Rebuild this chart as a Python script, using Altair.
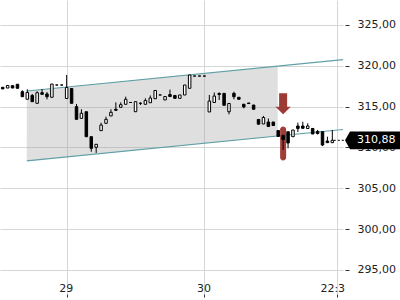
import altair as alt
import pandas as pd

# ---- candle data (index = bar number) ----
opens = [317.37, 317.28, 317.57, 317.74, 316.83, 315.91, 316.37, 315.41, 316.71, 316.55,
         316.15, 317.65, 317.65, 316.00, 317.22, 315.00, 313.57, 314.38, 311.32, 310.02,
         312.06, 312.96, 313.86, 314.68, 314.92, 315.29, 315.51, 314.38, 315.41, 315.29,
         315.48, 315.97, 316.43, 315.82, 316.49, 316.37, 316.02, 316.43, 317.25, 318.75,
         318.75, 318.75, 314.35, 315.51, 316.61, 316.63, 314.38, 316.63, 316.15, 315.30,
         315.45, 315.20, 313.43, 312.88, 313.12, 313.12, 312.08, 311.47, 311.93, 311.32,
         312.63, 312.63, 312.33, 312.33, 311.96, 311.93, 310.79, 310.59]
highs = [317.37, 317.59, 317.57, 317.74, 317.00, 317.13, 316.55, 316.88, 317.16, 316.79,
         317.77, 317.65, 317.65, 318.88, 317.22, 315.33, 314.68, 314.38, 311.32, 310.39,
         313.04, 313.77, 314.68, 315.53, 315.53, 316.22, 315.51, 315.61, 315.53, 316.02,
         316.37, 316.98, 316.43, 316.24, 317.08, 316.37, 316.43, 317.65, 318.88, 318.75,
         318.75, 318.75, 316.43, 316.73, 316.76, 316.63, 315.39, 316.83, 316.15, 315.30,
         315.45, 315.20, 313.43, 313.86, 313.55, 313.12, 312.08, 311.60, 311.93, 312.14,
         313.04, 313.15, 312.96, 312.33, 312.14, 311.93, 311.32, 312.14]
lows = [317.17, 317.28, 317.28, 317.25, 316.22, 315.91, 315.61, 315.41, 316.51, 315.90,
        316.15, 317.65, 317.65, 316.00, 315.41, 313.45, 313.57, 311.32, 309.48, 309.33,
        312.06, 312.96, 313.86, 314.55, 314.92, 315.29, 315.51, 314.38, 315.20, 315.29,
        315.48, 315.97, 316.43, 315.82, 316.24, 316.02, 316.02, 316.43, 317.25, 318.75,
        318.75, 318.75, 314.35, 315.51, 315.82, 315.17, 314.06, 315.90, 315.90, 314.80,
        315.38, 314.68, 312.85, 312.88, 312.57, 312.69, 311.35, 309.70, 309.90, 311.32,
        311.90, 312.35, 312.33, 311.65, 311.59, 310.18, 310.59, 310.59]
closes = [317.17, 317.59, 317.28, 317.25, 316.22, 316.73, 315.61, 316.71, 316.51, 316.22,
          317.77, 317.65, 317.65, 317.35, 315.41, 313.45, 314.19, 311.32, 309.90, 310.39,
          312.75, 313.45, 314.31, 314.55, 315.24, 315.90, 315.51, 315.61, 315.41, 315.75,
          316.06, 316.98, 316.43, 316.24, 316.24, 316.02, 316.43, 317.65, 318.88, 318.75,
          318.75, 318.75, 315.69, 316.30, 316.49, 315.17, 315.39, 316.22, 315.90, 314.96,
          315.38, 314.68, 312.85, 313.67, 312.57, 312.69, 311.35, 310.98, 310.55, 312.14,
          312.33, 312.35, 312.63, 311.65, 311.71, 310.30, 310.59, 310.88]
bars = list(range(len(opens)))

# ---- axes ----
x_tick_values = [13, 41, 68]
x_tick_labels = ["29", "30", "22:3"]
y_tick_values = [295, 300, 305, 310, 315, 320, 325]

# ---- trend channel ----
fill_t = [4.9, 55.9]
fill_upper = [316.92, 319.97]
fill_lower = [308.35, 311.40]
line_t = [4.9, 69.17]
line_upper = [316.92, 320.77]
line_lower = [308.35, 312.20]

# ---- signal ----
signal_bar = [57]
signal_arrow_price = [315.35]
signal_band_top = [312.57]
signal_band_bottom = [308.41]

last_price = 310.88

FONT = "DejaVu Sans"
xscale = alt.Scale(domain=[-0.55, 69.17], nice=False, zero=False, padding=0)
yscale = alt.Scale(domain=[292.06, 328.06], nice=False, zero=False, padding=0)

label_expr = " : ".join(
    f"datum.value == {v} ? '{l}'" for v, l in zip(x_tick_values[:-1], x_tick_labels[:-1])
) + f" : '{x_tick_labels[-1]}'"

xaxis = alt.Axis(values=x_tick_values, labelExpr=label_expr, grid=True, gridColor="#d6d6d6",
                 gridWidth=1, domain=False, tickSize=3, tickColor="#333", labelPadding=-15,
                 labelFont=FONT, labelFontSize=11, labelColor="#222", title=None,
                 labelOffset={"condition": {"test": "datum.value == 68", "value": -5}, "value": -1})
yaxis = alt.Axis(values=y_tick_values, orient="right",
                 labelExpr="replace(format(datum.value, '.2f'), '.', ',')",
                 grid=True, gridColor="#d6d6d6", gridWidth=1, domain=False, tickSize=4,
                 tickColor="#333", offset=2, labelPadding=8, labelFont=FONT, labelFontSize=11,
                 labelColor="#222", title=None)


def X(f):
    return alt.X(f"{f}:Q", scale=xscale, axis=xaxis)


def Y(f):
    return alt.Y(f"{f}:Q", scale=yscale, axis=yaxis)


df = pd.DataFrame({"t": bars, "open": opens, "high": highs, "low": lows, "close": closes})
fill_df = pd.DataFrame({"t": fill_t, "lo": fill_lower, "hi": fill_upper})
line_df = pd.DataFrame({
    "t": line_t + line_t,
    "p": line_upper + line_lower,
    "s": ["u", "u", "l", "l"],
})
sig_df = pd.DataFrame({"t": signal_bar, "a": signal_arrow_price,
                       "top": signal_band_top, "bot": signal_band_bottom})
last_df = pd.DataFrame({"t": [67.3], "t2": [69.6], "p": [last_price],
                        "lbl": [f"{last_price:.2f}".replace(".", ",")]})

channel = alt.Chart(fill_df).mark_area(color="#9e9e9e", opacity=0.33).encode(
    x=X("t"), y=Y("lo"), y2="hi")
lines = alt.Chart(line_df).mark_line(color="#5fa0a6", strokeWidth=1.2).encode(
    x=X("t"), y=Y("p"), detail="s:N")
band = alt.Chart(sig_df).mark_bar(size=6, cornerRadius=3, color="#a23e38").encode(
    x=X("t"), y=Y("top"), y2="bot")
wicks = alt.Chart(df).mark_rule(color="black", strokeWidth=1).encode(
    x=X("t"), y=Y("low"), y2="high")
bodies = alt.Chart(df).mark_bar(size=2.5, stroke="black", strokeWidth=1).encode(
    x=X("t"), y=Y("open"), y2="close",
    fill=alt.condition("datum.close > datum.open", alt.value("white"), alt.value("black")))
arrow_path = ("M -0.364 -0.955 L 0.364 -0.955 L 0.364 0.264 L 0.69 0.264 L 0 0.955 "
              "L -0.69 0.264 L -0.364 0.264 Z")
arrow = alt.Chart(sig_df).mark_point(shape=arrow_path, size=484, filled=True,
                                     color="#9c3a35", opacity=1).encode(
    x=X("t"), y=Y("a"))
dash = alt.Chart(last_df).mark_rule(color="black", strokeWidth=1, strokeDash=[2, 2],
                                    clip=False).encode(
    x=X("t"), x2="t2", y=Y("p"))
tag_path = "M -1 0 L -0.833 -0.295 L 1 -0.295 L 1 0.295 L -0.833 0.295 Z"
tag = alt.Chart(last_df).mark_point(shape=tag_path, size=3600, filled=True, color="black",
                                    opacity=1, clip=False).encode(
    x=alt.value(375), y=Y("p"))
tag_text = alt.Chart(last_df).mark_text(align="left", baseline="middle", color="white",
                                        font=FONT, fontSize=11, clip=False).encode(
    x=alt.value(357), y=Y("p"), text="lbl:N")

chart = alt.layer(channel, lines, band, wicks, bodies, arrow, dash, tag, tag_text).properties(
    width=343, height=294,
    autosize=alt.AutoSizeParams(type="none"),
    padding={"left": 0, "top": 0, "right": 57, "bottom": 6},
    background="white",
).configure_view(stroke=None)

chart.save("out.html", embed_options={"renderer": "svg", "actions": False})
